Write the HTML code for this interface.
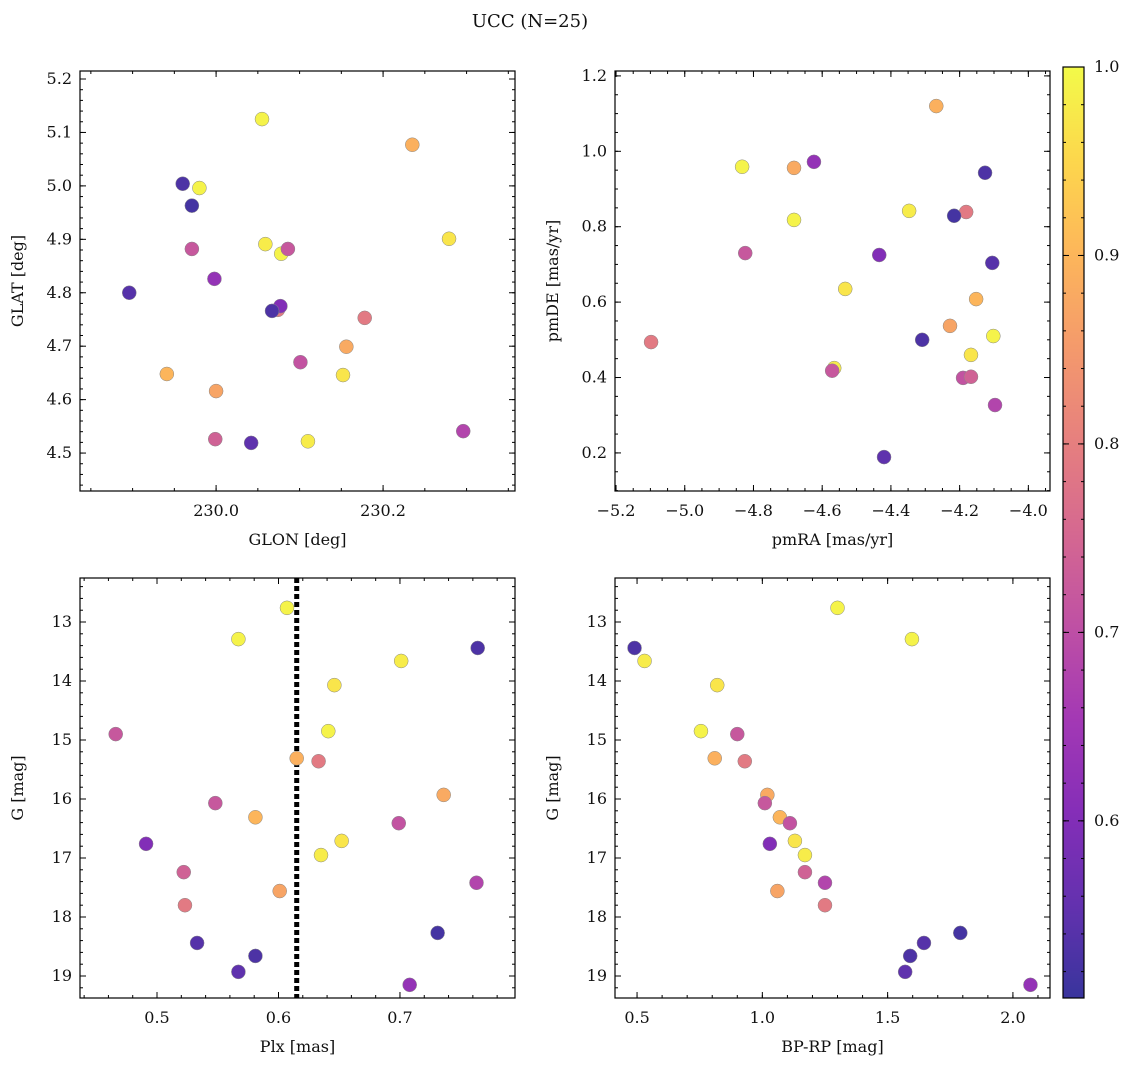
<!DOCTYPE html>
<html><head><meta charset="utf-8">
<style>
body{margin:0;background:#fff;}
svg text{font-family:"DejaVu Serif","Liberation Serif",serif;fill:#111;}
</style></head>
<body>
<svg id="fig" xmlns="http://www.w3.org/2000/svg" width="1136" height="1067" viewBox="0 0 1136 1067">
<text x="530" y="27" font-size="18" text-anchor="middle">UCC (N=25)</text>
</svg>
<script>
// star data (one entry per star)
const glon = [230.055,229.980,230.059,230.279,230.078,230.152,230.110, 230.235,230.156,229.941,230.000, 230.074,230.178, 229.971,230.086,230.101,229.999,230.296, 229.998,230.077, 229.960,229.971,229.896,230.067,230.042];
const glat = [5.125,4.996,4.891,4.901,4.873,4.646,4.522, 5.077,4.699,4.648,4.616, 4.768,4.753, 4.882,4.882,4.670,4.526,4.541, 4.826,4.775, 5.004,4.963,4.800,4.766,4.519];
const pmra = [-4.833,-4.682,-4.347,-4.533,-4.102,-4.167,-4.565, -4.268,-4.682,-4.152,-4.228, -4.181,-5.098, -4.824,-4.571,-4.190,-4.167,-4.097, -4.624,-4.434, -4.126,-4.216,-4.105,-4.309,-4.420];
const pmde = [0.959,0.818,0.842,0.635,0.510,0.460,0.425, 1.120,0.956,0.608,0.537, 0.839,0.494, 0.730,0.418,0.399,0.402,0.327, 0.972,0.725, 0.943,0.829,0.704,0.500,0.189];
const plx  = [0.607,0.567,0.701,0.646,0.641,0.652,0.635, 0.615,0.736,0.581,0.601, 0.633,0.523, 0.466,0.548,0.699,0.522,0.763, 0.708,0.491, 0.764,0.731,0.533,0.581,0.567];
const gmag = [12.76,13.29,13.66,14.07,14.85,16.71,16.95, 15.31,15.93,16.31,17.56, 15.36,17.80, 14.90,16.07,16.41,17.24,17.42, 19.15,16.76, 13.44,18.27,18.44,18.66,18.93];
const bprp = [1.30,1.597,0.53,0.82,0.755,1.13,1.17, 0.81,1.02,1.07,1.06, 0.93,1.25, 0.90,1.01,1.11,1.17,1.25, 2.07,1.03, 0.49,1.79,1.645,1.59,1.57];
const prob = [0.99,0.99,0.98,0.97,0.99,0.97,0.98, 0.89,0.88,0.90,0.87, 0.79,0.79, 0.72,0.72,0.71,0.74,0.68, 0.63,0.60, 0.53,0.52,0.54,0.53,0.55];
const plxLine = 0.615;
const cbTicks = [0.6,0.7,0.8,0.9,1.0];
const vmin = 0.506, vmax = 1.0;

const NS = "http://www.w3.org/2000/svg";
const svg = document.getElementById('fig');
function el(tag, attrs, parent){const e=document.createElementNS(NS,tag);for(const k in attrs)e.setAttribute(k,attrs[k]);(parent||svg).appendChild(e);return e;}

const stops=["#0d0887","#41049d","#6a00a8","#8f0da4","#b12a90","#cc4778","#e16462","#f2844b","#fca636","#fcce25","#f0f921"];
function hex(h){return [parseInt(h.slice(1,3),16),parseInt(h.slice(3,5),16),parseInt(h.slice(5,7),16)];}
function plasma(t){t=Math.max(0,Math.min(1,t));const p=t*10;const i=Math.min(9,Math.floor(p));const f=p-i;const a=hex(stops[i]),b=hex(stops[i+1]);
 const c=a.map((v,k)=>Math.round((v+(b[k]-v)*f)*0.82+255*0.18));return `rgb(${c[0]},${c[1]},${c[2]})`;}
function col(v){return plasma((v-vmin)/(vmax-vmin));}

function fmt(v,d){const s=v.toFixed(d);return s.replace('-','\u2212');}

function panel(o){
 const g=el('g',{});
 
 
 const sx=v=>o.x0+(v-o.xmin)/(o.xmax-o.xmin)*(o.x1-o.x0);
 const sy=v=>o.inv? o.y0+(v-o.ymin)/(o.ymax-o.ymin)*(o.y1-o.y0) : o.y1-(v-o.ymin)/(o.ymax-o.ymin)*(o.y1-o.y0);
 el('rect',{x:o.x0,y:o.y0,width:o.x1-o.x0,height:o.y1-o.y0,fill:'none',stroke:'#000','stroke-width':1.2},g);
 function ticks(step,len,isMajor,axis){
  const lo=axis==='x'?o.xmin:o.ymin, hi=axis==='x'?o.xmax:o.ymax;
  for(let k=Math.ceil(lo/step-1e-6);k*step<=hi+1e-9;k++){
   const v=k*step;
   if(axis==='x'){const x=sx(v);
    el('line',{x1:x,x2:x,y1:o.y1,y2:o.y1-len,stroke:'#000','stroke-width':1},g);
    el('line',{x1:x,x2:x,y1:o.y0,y2:o.y0+len,stroke:'#000','stroke-width':1},g);
    if(isMajor){const t=el('text',{x:x,y:o.y1+25,'font-size':16,'text-anchor':'middle'},g);t.textContent=fmt(v,o.xd);
     
     }
   } else {const y=sy(v);
    el('line',{x1:o.x0,x2:o.x0+len,y1:y,y2:y,stroke:'#000','stroke-width':1},g);
    el('line',{x1:o.x1,x2:o.x1-len,y1:y,y2:y,stroke:'#000','stroke-width':1},g);
    if(isMajor){const t=el('text',{x:o.x0-8,y:y+5,'font-size':16,'text-anchor':'end'},g);t.textContent=fmt(v,o.yd);
     
     }
   }
  }
 }
 ticks(o.xmaj,6,true,'x');ticks(o.xmin_,3,false,'x');
 ticks(o.ymaj,6,true,'y');ticks(o.ymin_,3,false,'y');
 const xl=el('text',{x:(o.x0+o.x1)/2,y:o.y1+54,'font-size':16,'text-anchor':'middle'},g);xl.textContent=o.xl;
 
 
 const yx=o.x0-57, yy=(o.y0+o.y1)/2;
 const yl=el('text',{x:yx,y:yy,'font-size':16,'text-anchor':'middle',transform:`rotate(-90 ${yx} ${yy})`},g);yl.textContent=o.yl;
 
 
 if(o.vline!==undefined){const l=el('line',{x1:sx(o.vline),x2:sx(o.vline),y1:o.y0,y2:o.y1,stroke:'#000','stroke-width':5,'stroke-dasharray':'5 3'},g);
  
  }
 for(let i=0;i<o.xs.length;i++){
  const c=el('circle',{cx:sx(o.xs[i]),cy:sy(o.ys[i]),r:7,fill:col(prob[i]),stroke:'#888','stroke-width':0.5},g);
  
  
 }
}
panel({name:'glon-glat-panel',x0:80,x1:515,y0:71,y1:491,xmin:229.837,xmax:230.358,ymin:4.429,ymax:5.215,xmaj:0.2,xmin_:0.05,ymaj:0.1,ymin_:0.02,xd:1,yd:1,xl:'GLON [deg]',yl:'GLAT [deg]',xs:glon,ys:glat});
panel({name:'pm-panel',x0:615,x1:1050,y0:71,y1:491,xmin:-5.203,xmax:-3.937,ymin:0.099,ymax:1.213,xmaj:0.2,xmin_:0.05,ymaj:0.2,ymin_:0.05,xd:1,yd:1,xl:'pmRA [mas/yr]',yl:'pmDE [mas/yr]',xs:pmra,ys:pmde});
panel({name:'plx-g-panel',x0:80,x1:515,y0:578,y1:998,xmin:0.4366,xmax:0.7947,ymin:12.254,ymax:19.373,inv:true,xmaj:0.1,xmin_:0.02,ymaj:1,ymin_:0.2,xd:1,yd:0,xl:'Plx [mas]',yl:'G [mag]',xs:plx,ys:gmag,vline:plxLine});
panel({name:'cmd-panel',x0:615,x1:1050,y0:578,y1:998,xmin:0.412,xmax:2.148,ymin:12.254,ymax:19.373,inv:true,xmaj:0.5,xmin_:0.1,ymaj:1,ymin_:0.2,xd:1,yd:0,xl:'BP-RP [mag]',yl:'G [mag]',xs:bprp,ys:gmag});

// colorbar
const cb=el('g',{});


const cx0=1063,cx1=1084,cy0=67,cy1=998;
const cby=v=>cy1-(v-vmin)/(vmax-vmin)*(cy1-cy0);
for(let y=cy0;y<cy1;y++){const v=vmin+(cy1-y-0.5)/(cy1-cy0)*(vmax-vmin);el('rect',{x:cx0,y:y,width:cx1-cx0,height:1.2,fill:col(v)},cb);}
el('rect',{x:cx0,y:cy0,width:cx1-cx0,height:cy1-cy0,fill:'none',stroke:'#000','stroke-width':1.2},cb);
for(let k=26;k<=50;k++){const v=k*0.02;if(v<vmin)continue;const y=cby(v);el('line',{x1:cx1,x2:cx1-3,y1:y,y2:y,stroke:'#000'},cb);el('line',{x1:cx0,x2:cx0+3,y1:y,y2:y,stroke:'#000'},cb);}
cbTicks.forEach(v=>{const y=cby(v);el('line',{x1:cx1,x2:cx1-6,y1:y,y2:y,stroke:'#000'},cb);el('line',{x1:cx0,x2:cx0+6,y1:y,y2:y,stroke:'#000'},cb);
 const t=el('text',{x:cx1+10,y:y+5,'font-size':16},cb);t.textContent=v.toFixed(1);
 
 });
</script>
</body></html>
